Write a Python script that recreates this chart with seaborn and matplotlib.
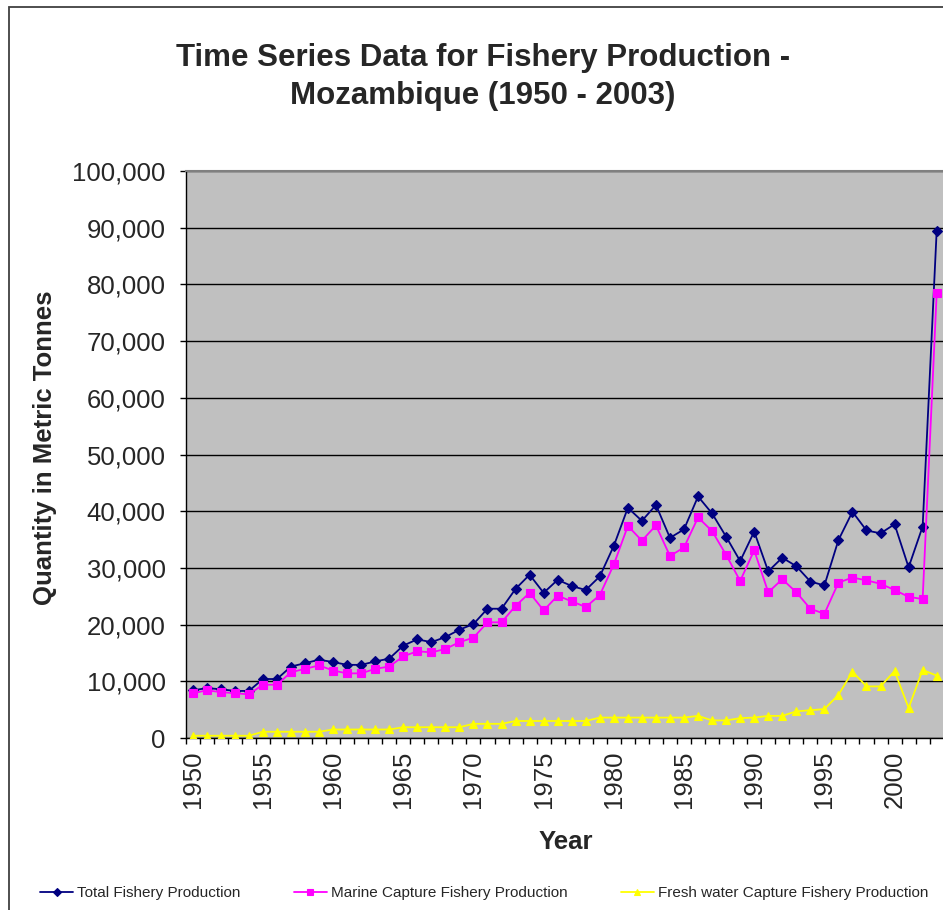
import matplotlib.pyplot as plt
import matplotlib.ticker as mticker
from matplotlib.patches import Rectangle
import numpy as np
import pandas as pd
import seaborn as sns

# Data (metric tonnes)
years = list(range(1950, 2004))

total = [
    8400, 8800, 8600, 8300, 8300, 10400, 10400, 12600, 13200, 13800,
    13400, 12900, 12900, 13500, 14000, 16300, 17400, 16900, 17800, 19100,
    20100, 22800, 22800, 26300, 28800, 25600, 27900, 26800, 26100, 28500,
    33900, 40600, 38300, 41100, 35300, 36800, 42600, 39600, 35500, 31200,
    36400, 29400, 31800, 30300, 27600, 26900, 34900, 39900, 36600, 36100,
    37700, 30100, 37300, 89500,
]
marine = [
    7900, 8400, 8100, 7900, 7700, 9400, 9400, 11600, 12200, 12800,
    11900, 11400, 11400, 12200, 12600, 14400, 15300, 15100, 15700, 16900,
    17700, 20400, 20400, 23300, 25600, 22500, 25100, 24100, 23100, 25200,
    30600, 37400, 34800, 37500, 32100, 33600, 38900, 36500, 32300, 27700,
    33100, 25700, 28000, 25700, 22800, 21900, 27400, 28300, 27800, 27200,
    26100, 24900, 24500, 78400,
]
fresh = [
    400, 400, 400, 400, 400, 1100, 1100, 1100, 1100, 1100,
    1500, 1500, 1500, 1500, 1500, 1900, 1900, 1900, 1900, 1900,
    2500, 2500, 2500, 3000, 3000, 3000, 3000, 3000, 3000, 3600,
    3600, 3600, 3600, 3600, 3600, 3600, 3900, 3100, 3100, 3500,
    3600, 3900, 3900, 4700, 4900, 5100, 7600, 11700, 9100, 9100,
    11800, 5300, 12000, 11000,
]

series_names = [
    "Total Fishery Production",
    "Marine Capture Fishery Production",
    "Fresh water Capture Fishery Production",
]
series_colors = ["#000080", "#FF00FF", "#FFFF00"]
series_markers = ["D", "s", "^"]
series_sizes = [5.2, 5.2, 6.2]

df = pd.DataFrame({
    "Year": years * 3,
    "Quantity": total + marine + fresh,
    "Series": [series_names[0]] * len(years)
    + [series_names[1]] * len(years)
    + [series_names[2]] * len(years),
})

sns.set_style("white")
plt.rcParams["font.family"] = ["Liberation Sans", "DejaVu Sans"]

fig = plt.figure(figsize=(9.43, 9.10), dpi=100)
ax = fig.add_axes([185.7 / 943, 1 - 738 / 910, 758 / 943, 567 / 910])
ax.set_facecolor("#C0C0C0")

for name, col, mk, ms in zip(series_names, series_colors, series_markers, series_sizes):
    sns.lineplot(
        data=df[df["Series"] == name], x="Year", y="Quantity",
        color=col, marker=mk, markersize=ms, markeredgecolor=col,
        markeredgewidth=0.8, linewidth=1.3, label=name, legend=False, ax=ax,
        zorder=3,
    )

ax.set_xlim(1949.5, 2003.5)
ax.set_ylim(0, 100000)

# y axis
ax.yaxis.set_major_locator(mticker.MultipleLocator(10000))
ax.yaxis.set_major_formatter(mticker.FuncFormatter(lambda v, p: f"{int(v):,}"))
ax.grid(axis="y", color="black", linewidth=1.0, zorder=1)
ax.set_axisbelow(True)

# x axis: labels every 5 years at category centers, tick marks between categories
ax.set_xticks(list(range(1950, 2004, 5)))
ax.set_xticks(np.arange(1949.5, 2004, 1.0), minor=True)
ax.tick_params(axis="x", which="major", length=0, pad=9, labelsize=18.5,
               labelrotation=90)
ax.tick_params(axis="x", which="minor", length=4.5, width=1, color="black",
               direction="out", bottom=True)
ax.tick_params(axis="y", which="major", length=4.5, width=1, color="black",
               direction="out", left=True, labelsize=18.5, pad=10)

for side in ["left", "bottom"]:
    ax.spines[side].set_color("black")
    ax.spines[side].set_linewidth(1.0)
ax.spines["top"].set_color("#808080")
ax.spines["top"].set_linewidth(1.5)
ax.spines["right"].set_visible(False)

ax.set_xlabel("")
ax.set_ylabel("")

fig.text(483 / 943, 1 - 77 / 910,
         "Time Series Data for Fishery Production -\nMozambique (1950 - 2003)",
         ha="center", va="center", fontsize=22.5, fontweight="bold",
         linespacing=1.32)
fig.text(45 / 943, 1 - 448 / 910, "Quantity in Metric Tonnes",
         rotation=90, ha="center", va="center", fontsize=18.5,
         fontweight="bold")
fig.text(566 / 943, 1 - 842 / 910, "Year", ha="center", va="center",
         fontsize=18.5, fontweight="bold")

handles = ax.get_lines()[:3]
fig.legend(handles=handles, labels=series_names, loc="center left",
           bbox_to_anchor=(34 / 943, 1 - 893 / 910), ncol=3, frameon=False,
           fontsize=11, handlelength=2.15, handletextpad=0.26,
           columnspacing=3.5, borderaxespad=0, markerscale=0.8)

# chart border (Excel chart area)
fig.patches.append(Rectangle((9 / 943, -0.05), 1.2, 1.05 - 7 / 910,
                             transform=fig.transFigure, fill=False,
                             edgecolor="#404040", linewidth=1.3))

fig.savefig("out.png", dpi=100)
